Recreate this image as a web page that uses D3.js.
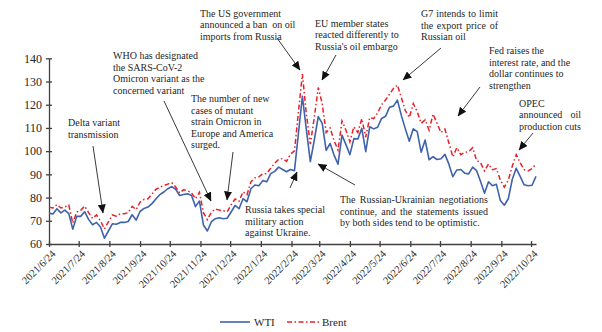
<!DOCTYPE html>
<html>
<head>
<meta charset="utf-8">
<script src="https://cdn.jsdelivr.net/npm/d3@7"></script>
<style>
  body { margin: 0; background: #fff; }
  svg text { font-family: "Liberation Serif", "Times New Roman", serif; fill: #262626; }
</style>
</head>
<body>
<script>
// spot prices, one reading every 4 calendar days from 2021/6/24
const startDate = "2021-06-24";
const stepDays = 4;

const wti = [
  73.3, 72.9, 75.2, 73.4, 74.6, 73.1, 66.4, 71.9, 71.9, 73.9,
  70.6, 68.3, 69.3, 67.3, 62.5, 65.6, 68.7, 68.5, 69.3, 69.3,
  69.7, 72.6, 70.3, 74.0, 75.3, 75.9, 77.4, 79.4, 81.3, 82.4,
  83.8, 84.7, 83.6, 80.9, 81.3, 81.6, 80.9, 76.1, 78.5, 68.2,
  65.6, 69.5, 70.9, 71.3, 70.9, 71.1, 73.8, 76.6, 75.2, 79.5,
  78.2, 83.8, 85.4, 85.1, 87.3, 86.8, 90.3, 91.3, 93.1, 92.1,
  91.1, 92.1, 91.6, 107.7, 123.6, 109.3, 95.5, 104.7, 114.9, 112.0,
  100.3, 103.3, 98.3, 94.4, 106.9, 102.8, 98.5, 105.4, 105.2, 109.8,
  99.8, 110.5, 109.6, 110.3, 114.1, 115.0, 118.9, 119.4, 122.0, 115.3,
  109.6, 104.3, 109.6, 108.4, 99.5, 104.8, 96.3, 97.6, 96.4, 96.7,
  98.6, 94.4, 89.0, 91.9, 92.1, 90.5, 90.2, 93.1, 91.6, 86.9,
  81.9, 86.8, 85.1, 85.7, 78.7, 76.7, 79.5, 87.8, 92.6, 89.1,
  85.5, 85.1, 85.3, 89.1
];

const brent = [
  75.8, 75.5, 77.0, 75.5, 76.0, 76.8, 69.0, 73.8, 74.5, 76.3,
  73.5, 71.0, 72.5, 70.0, 66.5, 69.5, 72.5, 72.0, 73.0, 73.0,
  73.5, 76.2, 74.8, 78.0, 79.2, 79.5, 81.5, 83.5, 84.5, 85.2,
  85.8, 86.4, 84.6, 82.0, 83.4, 82.9, 82.0, 79.5, 82.3, 73.5,
  70.5, 73.6, 75.1, 74.6, 74.3, 73.9, 76.9, 79.4, 78.4, 82.5,
  81.2, 86.8, 88.5, 88.9, 90.2, 90.3, 92.7, 94.8, 96.5, 96.8,
  95.6, 98.7, 100.1, 117.0, 133.2, 116.0, 103.0, 114.5, 127.4, 120.5,
  108.0, 110.0, 104.5, 100.5, 113.0, 109.0, 104.0, 110.5, 108.0, 114.0,
  106.0, 114.5, 114.0, 116.5, 120.0, 122.0, 124.5, 127.0, 128.5, 123.0,
  117.5, 114.5, 120.5, 117.0, 112.0, 113.5, 109.0, 116.0, 112.0, 108.0,
  109.5, 103.5, 97.5, 101.5, 98.5, 99.5, 99.8, 101.5, 96.0, 95.0,
  91.5, 94.5, 92.0, 92.5, 87.5, 84.5, 87.5, 93.5, 98.5, 95.0,
  92.0, 91.5, 92.5, 94.5
];

const xTickLabels = [
  "2021/6/24", "2021/7/24", "2021/8/24", "2021/9/24", "2021/10/24", "2021/11/24",
  "2021/12/24", "2022/1/24", "2022/2/24", "2022/3/24", "2022/4/24", "2022/5/24",
  "2022/6/24", "2022/7/24", "2022/8/24", "2022/9/24", "2022/10/24"
];
const yTicks = [60, 70, 80, 90, 100, 110, 120, 130, 140];

const seriesNames = ["WTI", "Brent"];

// event notes: text block, arrow tail and arrow tip (pixels)
const notes = [
  { lines: ["Delta variant", "transmission"], x: 68, y: 126, tail: [93, 146], tip: [103, 213] },
  { lines: ["WHO has designated", "the SARS-CoV-2", "Omicron variant as the", "concerned variant"],
    x: 113, y: 59, tail: [164, 101], tip: [211, 201] },
  { lines: ["The number of new", "cases of mutant", "strain Omicron in", "Europe and America", "surged."],
    x: 191, y: 102, tail: [233, 152], tip: [227, 200] },
  { lines: ["The US government", "announced a ban  on oil", "imports from Russia"],
    x: 200, y: 16.5, tail: [277, 38], tip: [300, 70] },
  { lines: ["EU member states", "reacted differently to", "Russia's oil embargo"],
    x: 315, y: 26.5, tail: [336, 55], tip: [322, 80] },
  { lines: ["G7 intends to limit", "the export price of", "Russian oil"],
    x: 421, y: 17, width: 77, tail: [441, 48], tip: [403, 80] },
  { lines: ["Fed raises the", "interest rate, and the", "dollar continues to", "strengthen"],
    x: 489, y: 54, tail: [480, 87], tip: [458, 116] },
  { lines: ["OPEC", "announced oil", "production cuts"],
    x: 519, y: 106.5, width: 62, tail: [533, 133], tip: [519, 150] },
  { lines: ["Russia takes special", "military action", "against Ukraine."],
    x: 245, y: 213, tail: [290, 188], tip: [297, 172] },
  { lines: ["The Russian-Ukrainian negotiations", "continue, and the statements issued", "by both sides tend to be optimistic."],
    x: 340, y: 203, width: 148, tail: [355, 185], tip: [318, 164] }
];

const W = 602, H = 332;
const parseDay = d3.timeParse("%Y-%m-%d");
const parseTick = d3.timeParse("%Y/%m/%d");
const t0 = parseDay(startDate);

const rows = wti.map((v, i) => ({
  date: d3.timeDay.offset(t0, i * stepDays),
  wti: v,
  brent: brent[i]
}));

const x = d3.scaleTime()
  .domain([t0, parseDay("2022-10-29")])
  .range([49, 536]);
const y = d3.scaleLinear().domain([60, 140]).range([244, 58.3]);

const svg = d3.select("body").append("svg")
  .attr("width", W).attr("height", H);

svg.append("defs").append("marker")
  .attr("id", "head")
  .attr("markerUnits", "userSpaceOnUse")
  .attr("viewBox", "0 0 9 8")
  .attr("markerWidth", 9).attr("markerHeight", 8)
  .attr("refX", 8.5).attr("refY", 4)
  .attr("orient", "auto")
  .append("path").attr("d", "M0,0L9,4L0,8Z").attr("fill", "#111");

// axes
const yAxis = d3.axisLeft(y).tickValues(yTicks).tickSize(3).tickSizeOuter(0).tickPadding(4);
const gy = svg.append("g").attr("transform", "translate(49,0)").call(yAxis);
gy.selectAll(".tick line").attr("x1", 3);
gy.selectAll("text").style("font-size", "12px").style("font-family", null);

const xAxis = d3.axisBottom(x)
  .tickValues(xTickLabels.map(parseTick))
  .tickFormat(d3.timeFormat("%Y/%-m/%-d"))
  .tickSize(3).tickSizeOuter(0);
const gx = svg.append("g").attr("transform", "translate(0,244)").call(xAxis);
gx.selectAll(".tick line").attr("y1", -3);
gx.selectAll("text")
  .style("font-size", "10.5px").style("font-family", null)
  .attr("text-anchor", "end")
  .attr("x", 0).attr("y", 0).attr("dy", "0.35em")
  .attr("transform", "translate(4,8) rotate(-45)");

svg.selectAll(".domain, .tick line").attr("stroke", "#404040").attr("stroke-width", 1.3);

// price lines
const line = key => d3.line().x(d => x(d.date)).y(d => y(d[key]));

svg.append("path").datum(rows)
  .attr("d", line("wti"))
  .attr("fill", "none").attr("stroke", "#3e62ab").attr("stroke-width", 1.6)
  .attr("stroke-linejoin", "round");

svg.append("path").datum(rows)
  .attr("d", line("brent"))
  .attr("fill", "none").attr("stroke", "#e8202a").attr("stroke-width", 1.5)
  .attr("stroke-dasharray", "5,2.5,1.5,2.5");

// notes
const fs = 10, lh = 11.6;
notes.forEach(n => {
  const g = svg.append("g").style("font-size", fs + "px");
  n.lines.forEach((ln, i) => {
    const yy = n.y + i * lh;
    const words = ln.split(/\s+/);
    const justify = n.width && words.length > 1 && i < n.lines.length - 1;
    if (!justify) {
      g.append("text").attr("x", n.x).attr("y", yy).attr("xml:space", "preserve").text(ln);
      return;
    }
    const nodes = words.map(w => g.append("text").attr("y", yy).text(w));
    const widths = nodes.map(t => t.node().getComputedTextLength());
    const gap = (n.width - d3.sum(widths)) / (words.length - 1);
    let cx = n.x;
    nodes.forEach((t, k) => { t.attr("x", cx); cx += widths[k] + gap; });
  });
  svg.append("line")
    .attr("x1", n.tail[0]).attr("y1", n.tail[1])
    .attr("x2", n.tip[0]).attr("y2", n.tip[1])
    .attr("stroke", "#3a3a3a").attr("stroke-width", 1)
    .attr("marker-end", "url(#head)");
});

// legend
const leg = svg.append("g").style("font-size", "11px");
leg.append("line").attr("x1", 220).attr("x2", 250).attr("y1", 322).attr("y2", 322)
  .attr("stroke", "#3e62ab").attr("stroke-width", 1.6);
leg.append("text").attr("x", 254).attr("y", 326).text(seriesNames[0]);
leg.append("line").attr("x1", 287).attr("x2", 319).attr("y1", 322).attr("y2", 322)
  .attr("stroke", "#e8202a").attr("stroke-width", 1.5).attr("stroke-dasharray", "5,2.5,1.5,2.5");
leg.append("text").attr("x", 322).attr("y", 326).text(seriesNames[1]);
</script>
</body>
</html>
